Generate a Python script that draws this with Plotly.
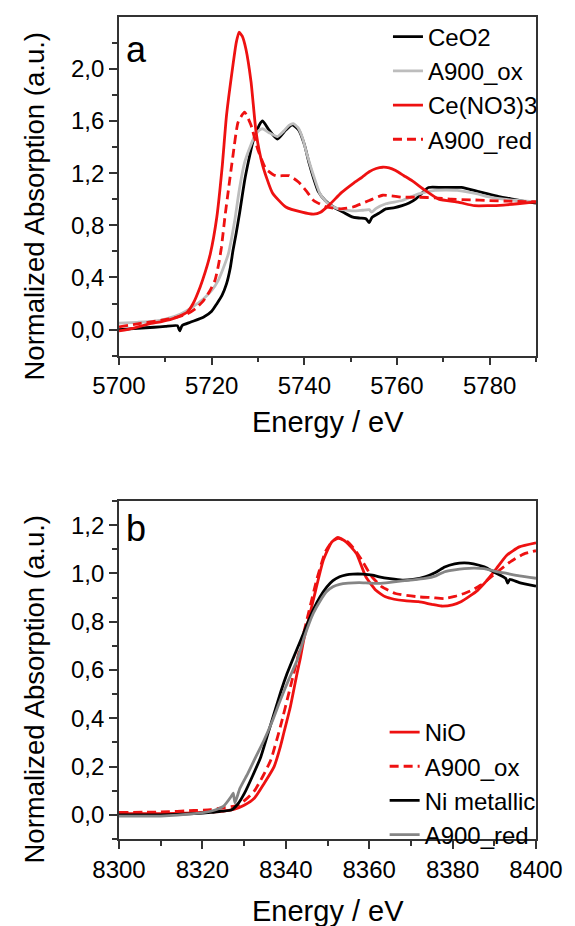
import plotly.graph_objects as go

# ---------------- Panel a: Ce L3-edge ----------------
ceo2_E = [5700, 5704, 5707.6, 5710, 5712.6, 5713.1, 5713.6, 5715.4, 5718.2, 5720, 5721.1, 5722.2,
          5723.2, 5724, 5724.6, 5725.3, 5726, 5727.1, 5728, 5728.9, 5730.3, 5731, 5732.4, 5734.2,
          5736, 5737.4, 5738.8, 5740, 5741, 5742, 5743, 5744.5, 5746.3, 5748.4, 5750.5, 5752,
          5753.3, 5754, 5754.6, 5756, 5757.6, 5759.5, 5761.1, 5762.6, 5764, 5765.5, 5766.8,
          5769.7, 5773.9, 5777.4, 5779.6, 5782, 5785, 5788, 5790]
ceo2_v = [0.0, 0.01, 0.018, 0.025, 0.03, -0.01, 0.03, 0.056, 0.094, 0.14, 0.197, 0.26,
          0.35, 0.47, 0.606, 0.74, 0.888, 1.14, 1.3, 1.44, 1.57, 1.60, 1.53, 1.46,
          1.53, 1.57, 1.53, 1.42, 1.28, 1.16, 1.06, 0.99, 0.94, 0.90, 0.862, 0.855,
          0.85, 0.82, 0.86, 0.89, 0.926, 0.935, 0.95, 0.97, 1.0, 1.05, 1.09,
          1.09, 1.09, 1.06, 1.04, 1.02, 1.0, 0.98, 0.97]

a900ox_a_E = [5700, 5704, 5707.6, 5710, 5713.3, 5715.5, 5718.2, 5720, 5721.4, 5722.5, 5723.6, 5724.3,
              5725, 5726, 5727.1, 5728.5, 5729.4, 5730.3, 5731, 5732.4, 5734.2, 5735.5, 5736.7,
              5737.6, 5738.6, 5739.6, 5740.6, 5742, 5743.4, 5745, 5747, 5750.5, 5752.5, 5754,
              5754.5, 5755.5, 5757.6, 5761.1, 5764.7, 5768.2, 5773, 5777.4, 5779.6, 5783, 5786, 5790]
a900ox_a_v = [0.05, 0.056, 0.064, 0.08, 0.12, 0.165, 0.235, 0.3, 0.376, 0.47, 0.58, 0.7,
              0.84, 1.08, 1.28, 1.42, 1.49, 1.53, 1.54, 1.51, 1.48, 1.52, 1.566,
              1.58, 1.55, 1.47, 1.34, 1.18, 1.04, 0.97, 0.93, 0.91, 0.915, 0.92,
              0.90, 0.93, 0.965, 0.99, 1.04, 1.067, 1.067, 1.04, 1.02, 1.0, 0.99, 0.98]

ceno3_E = [5700, 5703, 5706.5, 5709, 5711.5, 5713.5, 5714.7, 5716, 5717.5, 5718.6, 5719.7, 5721.1,
           5722.3, 5723.2, 5724.6, 5725.3, 5725.9, 5726.6, 5727.4, 5728.5, 5729.6, 5731, 5733.1,
           5736, 5739.5, 5742, 5743.5, 5745.5, 5748, 5750.5, 5752.5, 5754, 5755.5, 5756.9,
           5758.3, 5759.7, 5761.5, 5763.3, 5766.1, 5769, 5773.2, 5776.7, 5779.6, 5783, 5786, 5790]
ceno3_v = [-0.01, 0.01, 0.044, 0.06, 0.082, 0.11, 0.133, 0.2, 0.325, 0.44, 0.58, 0.86,
           1.26, 1.64, 2.03, 2.2, 2.28, 2.25, 2.15, 1.9, 1.51, 1.26, 1.05,
           0.94, 0.90, 0.885, 0.9, 0.96, 1.05, 1.12, 1.17, 1.21, 1.235, 1.245,
           1.24, 1.22, 1.18, 1.14, 1.067, 1.0, 0.977, 0.95, 0.95, 0.955, 0.965, 0.98]

a900red_a_E = [5700, 5704, 5709, 5712, 5714.7, 5716.5, 5718.2, 5719.5, 5720.7, 5721.5, 5722.1, 5722.9,
               5723.6, 5724.6, 5725.7, 5727.1, 5728.5, 5729.9, 5731.7, 5733.8, 5736.7, 5738.8,
               5740.5, 5742, 5744.8, 5747.7, 5750.5, 5754, 5756.9, 5761.1, 5764.7, 5768.2, 5771.8,
               5776, 5779.6, 5784, 5790]
a900red_a_v = [0.02, 0.044, 0.07, 0.09, 0.12, 0.16, 0.22, 0.29, 0.376, 0.5, 0.63, 0.875,
               1.067, 1.335, 1.59, 1.668, 1.566, 1.387, 1.233, 1.18, 1.18, 1.13,
               1.06, 0.99, 0.94, 0.926, 0.94, 0.99, 1.03, 1.015, 1.015, 1.01, 1.0,
               0.995, 0.99, 0.985, 0.98]

# ---------------- Panel b: Ni K-edge ----------------
nio_E = [8300, 8310, 8318, 8322, 8325, 8327.7, 8330, 8332.5, 8334.8, 8337.2, 8338.7, 8339.5, 8341.1,
         8342.7, 8343.5, 8344.3, 8346.6, 8349, 8351, 8352.5, 8354.5, 8356.9, 8359.2, 8361.6,
         8363.9, 8366, 8368.5, 8371.8, 8375, 8377.3, 8380, 8382, 8384, 8386, 8388.3, 8390.5,
         8393, 8396, 8400]
nio_v = [0.005, 0.005, 0.008, 0.012, 0.016, 0.024, 0.04, 0.07, 0.13, 0.2, 0.283, 0.338, 0.448,
         0.586, 0.65, 0.724, 0.89, 1.055, 1.13, 1.149, 1.13, 1.083, 0.986, 0.93,
         0.903, 0.893, 0.887, 0.883, 0.872, 0.865, 0.87, 0.883, 0.905, 0.93, 0.972, 1.02,
         1.075, 1.11, 1.127]

a900ox_b_E = [8300, 8310, 8318, 8322, 8325, 8328.5, 8330.5, 8332.5, 8334.5, 8336.4, 8338.7, 8341.1,
              8343.5, 8345.5, 8347.5, 8349.5, 8351, 8352.5, 8354.5, 8356.5, 8358.4, 8360.5,
              8363, 8366.3, 8371.8, 8375, 8378.1, 8380.5, 8382.8, 8384.8, 8386.8, 8388.3,
              8391, 8394, 8397, 8400]
a900ox_b_v = [0.01, 0.012, 0.018, 0.022, 0.03, 0.04, 0.065, 0.10, 0.16, 0.227, 0.365, 0.53,
              0.696, 0.84, 0.98, 1.09, 1.13, 1.145, 1.135, 1.1, 1.05, 0.99,
              0.945, 0.917, 0.903, 0.9, 0.896, 0.905, 0.917, 0.932, 0.952, 0.972,
              1.01, 1.05, 1.08, 1.094]

ni_E = [8300, 8310, 8318, 8322, 8324.5, 8326.9, 8328.5, 8330.1, 8332, 8334, 8335.6, 8337.2, 8338.8,
        8340.3, 8342, 8343.5, 8345, 8346.6, 8348.2, 8349.8, 8351.3, 8352.9, 8354.5, 8356.1,
        8358.5, 8360.8, 8362.4, 8365, 8367.9, 8370.5, 8373.4, 8376, 8378.1, 8380.5, 8382.8,
        8385, 8387.6, 8390, 8392.7, 8393.2, 8393.7, 8396, 8400]
ni_v = [0.0, 0.0, 0.005, 0.01, 0.015, 0.02, 0.045, 0.09, 0.16, 0.24, 0.33, 0.42, 0.51,
        0.585, 0.658, 0.72, 0.785, 0.85, 0.902, 0.943, 0.97, 0.986, 0.994, 0.997,
        0.997, 0.993, 0.986, 0.978, 0.972, 0.975, 0.986, 1.005, 1.027, 1.04, 1.044,
        1.04, 1.027, 1.005, 0.98, 0.96, 0.975, 0.962, 0.947]

a900red_b_E = [8300, 8310, 8318, 8322, 8325, 8326.9, 8327.4, 8327.8, 8329, 8330.9, 8332.8, 8334.8,
               8336.8, 8338.7, 8340.7, 8342.7, 8344.5, 8346.6, 8348.2, 8349.8, 8351.3, 8352.9,
               8355, 8357.6, 8360, 8362.4, 8365, 8367.9, 8370.5, 8373.4, 8376, 8378.1, 8380.5,
               8382.8, 8385, 8387.6, 8390, 8393, 8396, 8400]
a900red_b_v = [-0.005, -0.005, 0.005, 0.015, 0.035, 0.076, 0.09, 0.05, 0.11, 0.172, 0.24, 0.31,
               0.39, 0.476, 0.56, 0.64, 0.74, 0.835, 0.885, 0.925, 0.945, 0.955,
               0.96, 0.962, 0.96, 0.959, 0.963, 0.969, 0.973, 0.979, 0.99, 1.007, 1.015,
               1.02, 1.022, 1.02, 1.01, 1.0, 0.99, 0.98]

RED = "#ee1111"
LW = 2.8
DASH = "9px,5px"
SM = 0.5

fig = go.Figure()

def line(color, dash=None):
    d = dict(color=color, width=LW, shape="spline", smoothing=SM)
    if dash:
        d["dash"] = dash
    return d

# panel a traces
fig.add_trace(go.Scatter(x=ceo2_E, y=ceo2_v, name="CeO2", mode="lines",
                         line=line("black"), xaxis="x", yaxis="y", legend="legend"))
fig.add_trace(go.Scatter(x=a900ox_a_E, y=a900ox_a_v, name="A900_ox", mode="lines",
                         line=line("#bdbdbd"), xaxis="x", yaxis="y", legend="legend"))
fig.add_trace(go.Scatter(x=ceno3_E, y=ceno3_v, name="Ce(NO3)3", mode="lines",
                         line=line(RED), xaxis="x", yaxis="y", legend="legend"))
fig.add_trace(go.Scatter(x=a900red_a_E, y=a900red_a_v, name="A900_red", mode="lines",
                         line=line(RED, DASH), xaxis="x", yaxis="y", legend="legend"))

# panel b traces
fig.add_trace(go.Scatter(x=nio_E, y=nio_v, name="NiO", mode="lines",
                         line=line(RED), xaxis="x2", yaxis="y2", legend="legend2"))
fig.add_trace(go.Scatter(x=a900ox_b_E, y=a900ox_b_v, name="A900_ox", mode="lines",
                         line=line(RED, DASH), xaxis="x2", yaxis="y2", legend="legend2"))
fig.add_trace(go.Scatter(x=ni_E, y=ni_v, name="Ni metallic", mode="lines",
                         line=line("black"), xaxis="x2", yaxis="y2", legend="legend2"))
fig.add_trace(go.Scatter(x=a900red_b_E, y=a900red_b_v, name="A900_red", mode="lines",
                         line=line("#858585"), xaxis="x2", yaxis="y2", legend="legend2"))

FONT = "Liberation Sans, Arial, sans-serif"
TICKFONT = dict(family=FONT, size=24, color="black")
AXCOL = "#333333"

def xax(rng, anchor):
    return dict(range=rng, dtick=20, tick0=0, ticks="outside", ticklen=8, tickwidth=1.5,
                tickcolor=AXCOL, showline=True, linecolor=AXCOL, linewidth=1.6, mirror=True,
                showgrid=False, zeroline=False, tickfont=TICKFONT, anchor=anchor,
                minor=dict(dtick=10, ticks="outside", ticklen=5, tickwidth=1.5, tickcolor=AXCOL))

def yax(rng, dom, dt, mdt, anchor):
    return dict(range=rng, domain=dom, dtick=dt, tick0=0, tickformat=".1f", ticks="outside",
                ticklen=8, tickwidth=1.5, tickcolor=AXCOL, showline=True, linecolor=AXCOL,
                linewidth=1.6, mirror=True, showgrid=False, zeroline=False, tickfont=TICKFONT,
                anchor=anchor,
                minor=dict(dtick=mdt, ticks="outside", ticklen=5, tickwidth=1.5, tickcolor=AXCOL))

fig.update_layout(
    width=575, height=926,
    margin=dict(l=119, r=32, t=17, b=87),
    paper_bgcolor="white", plot_bgcolor="white",
    separators=",.",
    font=dict(family=FONT, color="black"),
    xaxis=xax([5700, 5790], "y"),
    yaxis=yax([-0.2, 2.397], [0.588, 1.0], 0.4, 0.2, "x"),
    xaxis2=xax([8300, 8400], "y2"),
    yaxis2=yax([-0.1, 1.3], [0.0, 0.4112], 0.2, 0.1, "x2"),
    legend=dict(x=0.645, y=1.003, xanchor="left", yanchor="top", bgcolor="rgba(0,0,0,0)",
                font=dict(family=FONT, size=24, color="black"), tracegroupgap=0, itemwidth=30),
    legend2=dict(x=0.637, y=0.157, xanchor="left", yanchor="top", bgcolor="rgba(0,0,0,0)",
                 font=dict(family=FONT, size=24, color="black"), tracegroupgap=0, itemwidth=30),
    showlegend=True,
)

annots = [
    dict(text="a", x=0.012, y=0.988, xref="paper", yref="paper", xanchor="left", yanchor="top",
         showarrow=False, font=dict(family=FONT, size=36, color="black")),
    dict(text="b", x=0.012, y=0.405, xref="paper", yref="paper", xanchor="left", yanchor="top",
         showarrow=False, font=dict(family=FONT, size=36, color="black")),
    dict(text="Normalized Absorption (a.u.)", x=-0.205, y=1 - (206 - 17) / 822, xref="paper",
         yref="paper", xanchor="center", yanchor="middle", textangle=-90, showarrow=False,
         font=dict(family=FONT, size=27.5, color="black")),
    dict(text="Normalized Absorption (a.u.)", x=-0.205, y=1 - (689 - 17) / 822, xref="paper",
         yref="paper", xanchor="center", yanchor="middle", textangle=-90, showarrow=False,
         font=dict(family=FONT, size=27.5, color="black")),
    dict(text="Energy / eV", x=0.5, y=1 - (422 - 17) / 822, xref="paper", yref="paper",
         xanchor="center", yanchor="middle", showarrow=False,
         font=dict(family=FONT, size=29, color="black")),
    dict(text="Energy / eV", x=0.5, y=1 - (911 - 17) / 822, xref="paper", yref="paper",
         xanchor="center", yanchor="middle", showarrow=False,
         font=dict(family=FONT, size=29, color="black")),
]
fig.update_layout(annotations=annots)

fig.write_html("out.html")
